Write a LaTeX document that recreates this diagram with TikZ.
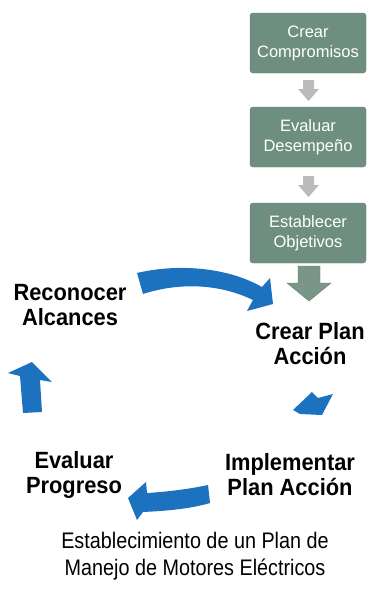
\documentclass[tikz,border=0pt]{standalone}
\usepackage{fontspec}
\setmainfont{Liberation Sans}
\definecolor{boxgreen}{RGB}{110,143,128}
\definecolor{boxedge}{RGB}{95,125,112}
\definecolor{lightarrow}{RGB}{185,188,186}
\definecolor{grayarrow}{RGB}{122,150,136}
\definecolor{blueA}{RGB}{28,114,190}
\begin{document}
\begin{tikzpicture}[x=1pt,y=-1pt,
  stepbox/.style={draw=boxedge,fill=boxgreen,rounded corners=3pt,minimum width=116pt,minimum height=60pt,text=white,align=center,font=\fontsize{16.5}{20}\selectfont,inner sep=0pt},
  lbl/.style={align=center,font=\fontsize{23.5}{25}\selectfont\bfseries,xscale=0.93,inner sep=0pt},
  captext/.style={align=center,font=\fontsize{22.5}{27}\selectfont,xscale=0.88,inner sep=0pt}]
\useasboundingbox (0,0) rectangle (368,589);
\fill[white] (0,0) rectangle (368,589);
% boxes
\node[stepbox] (b1) at (308,43) {Crear\\Compromisos};
\node[stepbox] (b2) at (308,137) {Evaluar\\Desempeño};
\node[stepbox] (b3) at (308,233) {Establecer\\Objetivos};
% small gray arrows between boxes
\fill[lightarrow] (303,80) -- (314,80) -- (314,89) -- (319,89) -- (308.5,101) -- (298,89) -- (303,89) -- cycle;
\fill[lightarrow] (303,176) -- (314,176) -- (314,185) -- (319,185) -- (308.5,197) -- (298,185) -- (303,185) -- cycle;
% big gray arrow
\filldraw[fill=grayarrow,draw=boxedge] (298,266) -- (320,266) -- (320,283) -- (331,283) -- (309,301) -- (287,283) -- (298,283) -- cycle;
% labels
\node[lbl] (rec) at (70,305) {Reconocer\\Alcances};
\node[lbl] (cpa) at (310,344) {Crear Plan\\Acción};
\node[lbl] (imp) at (290,475) {Implementar\\Plan Acción};
\node[lbl] (evp) at (74,475) {Evaluar\\Progreso};
\node[captext] (caption) at (195,556) {Establecimiento de un Plan de\\Manejo de Motores Eléctricos};
% curved blue arrow (Reconocer -> Crear Plan)
\fill[blueA] (137,273) .. controls (175,264) and (225,266) .. (262,287) -- (270,278) -- (273,304) -- (247,311) -- (253,300) .. controls (220,284) and (180,282) .. (143,294) -- cycle;
% small blue arrow under Crear Plan Accion
\fill[blueA] (293,410) -- (312,392) -- (318,398) -- (333,394) -- (322,415) -- (300,414) -- cycle;
% bottom blue arrow (Implementar -> Evaluar)
\fill[blueA] (208,485) .. controls (190,489) and (165,492) .. (147,493) -- (146,482) -- (128,498) -- (137,520) -- (143,512) .. controls (165,511) and (190,509) .. (210,503) -- cycle;
% left up arrow
\fill[blueA] (23,413) -- (20,376) -- (8,373) -- (32,362) -- (52,382) -- (40,380) -- (42,412) -- cycle;
\end{tikzpicture}
\end{document}
